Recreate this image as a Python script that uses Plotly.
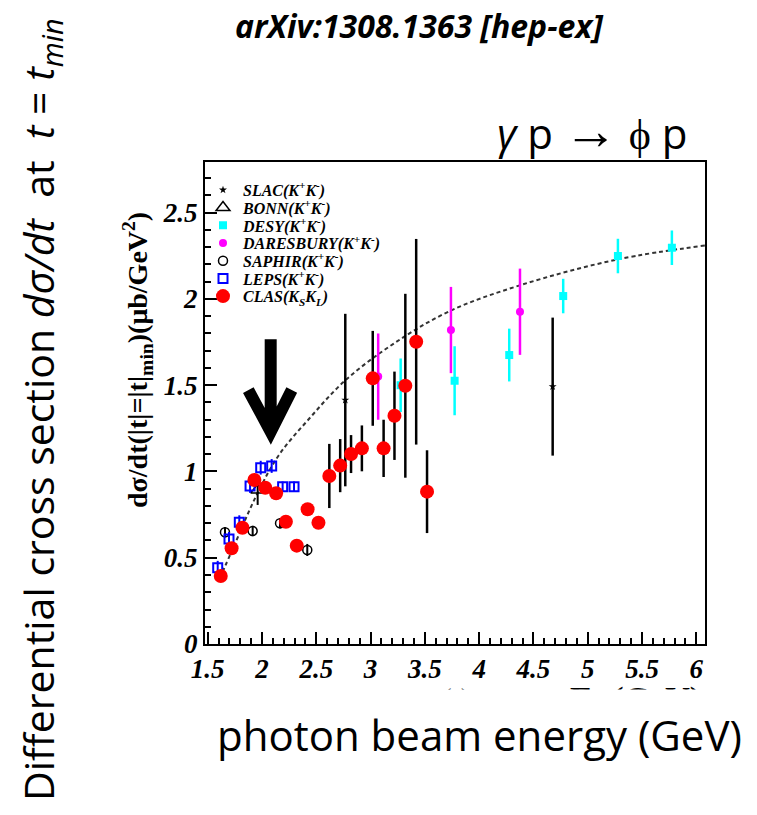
import plotly.graph_objects as go

# CLAS (K_S K_L)
clas_x = [1.62, 1.72, 1.82, 1.93, 2.03, 2.13, 2.22, 2.32, 2.42, 2.52,
          2.62, 2.72, 2.82, 2.92, 3.02, 3.12, 3.22, 3.32, 3.42, 3.52]
clas_y = [0.394, 0.555, 0.674, 0.951, 0.906, 0.874, 0.709, 0.570, 0.781, 0.703,
          0.974, 1.034, 1.101, 1.134, 1.540, 1.134, 1.323, 1.497, 1.752, 0.883]
clas_err = [0.03, 0.03, 0.03, 0.03, 0.03, 0.03, 0.03, 0.03, 0.03, 0.03,
            0.186, 0.154, 0.11, 0.133, 0.275, 0.166, 0.256, 0.533, 0.596, 0.24]

# SLAC (K+K-)
slac_x = [2.767, 4.677]
slac_y = [1.414, 1.492]
slac_err = [0.50, 0.40]

# BONN (K+K-)
bonn_x = [1.96]
bonn_y = [0.893]
bonn_err = [0.087]

# DESY (K+K-)
desy_x = [3.277, 3.774, 4.277, 4.774, 5.278, 5.775]
desy_y = [1.50, 1.526, 1.675, 2.017, 2.249, 2.297]
desy_err = [0.155, 0.2, 0.153, 0.1, 0.1, 0.1]

# DARESBURY (K+K-)
dare_x = [3.07, 3.74, 4.376]
dare_y = [1.55, 1.82, 1.926]
dare_err = [0.25, 0.25, 0.25]

# SAPHIR (K+K-)
saph_x = [1.659, 1.914, 2.166, 2.417]
saph_y = [0.648, 0.655, 0.70, 0.545]
saph_err = [0.03, 0.03, 0.03, 0.035]

# LEPS (K+K-)
leps_x = [1.592, 1.696, 1.791, 1.89, 1.988, 2.089, 2.19, 2.295]
leps_y = [0.442, 0.609, 0.706, 0.916, 1.022, 1.032, 0.912, 0.912]
leps_err = [0.04, 0.04, 0.04, 0.04, 0.04, 0.04, 0.03, 0.03]

# dashed fit curve
fit_x = [1.61, 1.73, 1.94, 2.15, 2.44, 2.77, 3.21, 3.73, 4.38, 5.28, 6.08]
fit_y = [0.38, 0.55, 0.85, 1.09, 1.31, 1.53, 1.74, 1.93, 2.08, 2.23, 2.31]

KK = "(K<sup>+</sup>K<sup>-</sup>)"
serif = "Liberation Serif"


# screen pixel -> paper coords (plot area spans x 205..705, y 162..644 on screen)
def px(X):
    return (X - 205) / 500


def py(Y):
    return (644 - Y) / 482


fig = go.Figure()

fig.add_trace(go.Scatter(
    x=fit_x, y=fit_y, mode="lines", showlegend=False, hoverinfo="skip",
    line=dict(color="#333333", width=2, dash="4px,3px", shape="spline", smoothing=1.0),
))

legend_layout = {}


def add_set(idx, x, y, err, name, symbol, size, color, fill, err_color, err_w, line_w=0):
    key = "legend" if idx == 1 else f"legend{idx}"
    fig.add_trace(go.Scatter(
        x=x, y=y, mode="markers", name=name, legend=key,
        error_y=dict(type="data", array=err, visible=True, color=err_color,
                     thickness=err_w, width=0),
        marker=dict(symbol=symbol, size=size, color=fill,
                    line=dict(color=color, width=line_w)),
    ))
    # one legend box per entry so the rows can sit as tight as in the original
    legend_layout[key] = dict(
        x=px(203), y=py(190 + (idx - 1) * 17.7), xanchor="left", yanchor="middle",
        bgcolor="rgba(0,0,0,0)", itemsizing="trace",
        font=dict(family=serif, size=16, color="black", weight="bold", style="italic"))


add_set(1, slac_x, slac_y, slac_err, "SLAC" + KK, "star", 6, "black", "black", "black", 2.5)
add_set(2, bonn_x, bonn_y, bonn_err, "BONN" + KK, "triangle-up-open", 12, "black", "black", "black", 2, 1.5)
add_set(3, desy_x, desy_y, desy_err, "DESY" + KK, "square", 8, "#00ffff", "#00ffff", "#00ffff", 2.5)
add_set(4, dare_x, dare_y, dare_err, "DARESBURY" + KK, "circle", 8, "#ff00ff", "#ff00ff", "#ff00ff", 2.5)
add_set(5, saph_x, saph_y, saph_err, "SAPHIR" + KK, "circle-open", 9, "black", "black", "black", 2, 1.5)
add_set(6, leps_x, leps_y, leps_err, "LEPS" + KK, "square-open", 9, "#0000ff", "#0000ff", "#0000ff", 2, 2)
add_set(7, clas_x, clas_y, clas_err, "CLAS(K<sub>S</sub>K<sub>L</sub>)", "circle", 14, "#ff0000", "#ff0000", "black", 2.5)

tickfont = dict(family=serif, size=27, color="black", weight="bold", style="italic")

fig.update_xaxes(
    range=[1.475, 6.08], tick0=1.5, dtick=0.5, ticks="inside", ticklen=12, tickwidth=1.5,
    minor=dict(dtick=0.1, ticks="inside", ticklen=6, tickwidth=1.5, tickcolor="black"),
    showline=True, linecolor="black", linewidth=2, mirror=True, showgrid=False,
    zeroline=False, tickfont=tickfont, tickcolor="black",
)
fig.update_yaxes(
    range=[0, 2.794], tick0=0, dtick=0.5, ticks="inside", ticklen=12, tickwidth=1.5,
    minor=dict(dtick=0.1, ticks="inside", ticklen=6, tickwidth=1.5, tickcolor="black"),
    showline=True, linecolor="black", linewidth=2, mirror=True, showgrid=False,
    zeroline=False, tickfont=tickfont, tickcolor="black",
)

# big arrow
fig.add_shape(type="path", xref="x", yref="y",
              path="M 2.08,1.767 L 2.08,1.24 M 1.874,1.472 L 2.08,1.23 L 2.274,1.472",
              line=dict(color="black", width=12))


def note(text, X, Y, size, family="Open Sans", xa="center", ya="middle", angle=0, **kw):
    return dict(text=text, xref="paper", yref="paper", x=px(X), y=py(Y),
                xanchor=xa, yanchor=ya, textangle=angle, showarrow=False,
                font=dict(family=family, size=size, color="black"), **kw)


fig.update_layout(
    width=749, height=807,
    margin=dict(l=197, r=52, t=154, b=171),
    paper_bgcolor="white", plot_bgcolor="white",
    annotations=[
        note("<b><i>arXiv:1308.1363 [hep-ex]</i></b>", 419, 26, 32),
        note("<i>γ</i> p <span style='font-size:54px'>→</span> ϕ p", 592, 128, 42),
        note("<b>dσ/dt(|t|=|t|<sub>min</sub>)(μb/GeV<sup>2</sup>)</b>", 137, 360, 28,
             family=serif, angle=-90),
        note("<b>E<sub>γ</sub> (GeV)</b>", 703, 678, 34, family=serif, xa="right", ya="top"),
        note("(a)", 456, 681, 22, family=serif, ya="top"),
        note(" ", 380, 689, 10, xa="left", ya="top", width=400, height=32, bgcolor="white"),
        note("Differential cross section <i>dσ/dt</i>  at  <i>t</i> = <i>t</i><sub><i>min</i></sub>",
             40, 410, 41, angle=-90),
        note("photon beam energy (GeV)", 479, 734, 42),
    ],
    **legend_layout,
)

fig.write_html("out.html")
